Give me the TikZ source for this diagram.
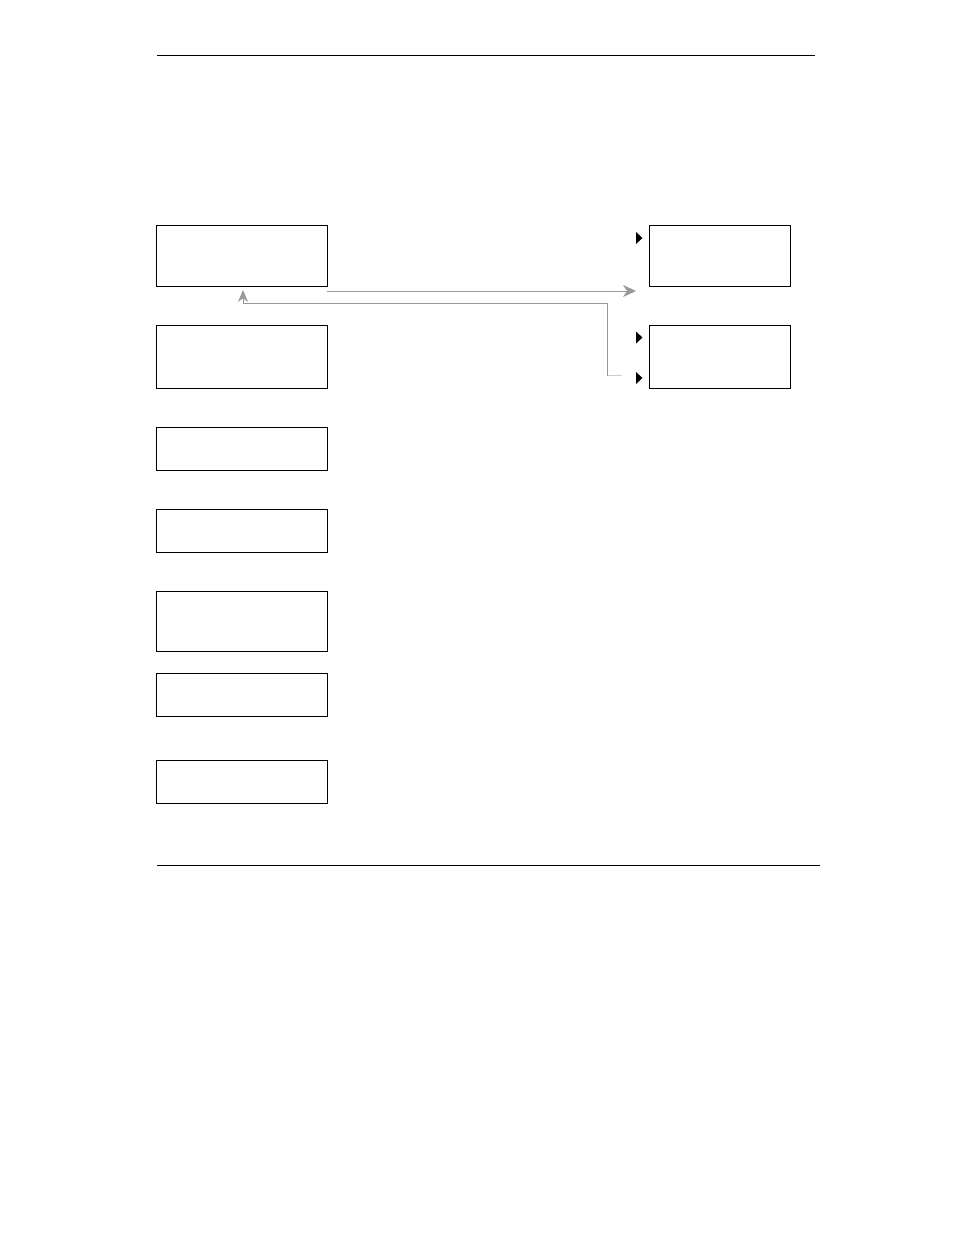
\documentclass[tikz,border=0pt]{standalone}
\usetikzlibrary{arrows.meta}
\newlength\pxu
\setlength\pxu{0.6415pt}
\begin{document}
\begin{tikzpicture}[x=0.6415pt,y=-0.6415pt,
  box/.style={draw=black,line width=0.6pt,rectangle,inner sep=0pt,fill=white},
  rule/.style={draw=black,line width=0.65pt},
  conn/.style={draw=black!40,line width=0.6pt},
  tri/.style={fill=black,draw=none},
  tip/.style={-{Stealth[length=8.3pt,width=7.7pt,inset=2.6pt]}},
  uptip/.style={-{Stealth[length=7.6pt,width=6.4pt,inset=2.3pt]}}]
\useasboundingbox (0,0) rectangle (954,1235);
% page rules
\coordinate (r1a) at (157,55);  \coordinate (r1b) at (815,55);
\coordinate (r2a) at (157,865); \coordinate (r2b) at (820,865);
\draw[rule] (r1a) -- (r1b);
\draw[rule] (r2a) -- (r2b);
% left column boxes
\node[box,minimum width=171\pxu,minimum height=61\pxu] (b1) at (241.5,255.5) {};
\node[box,minimum width=171\pxu,minimum height=63\pxu] (b2) at (241.5,356.5) {};
\node[box,minimum width=171\pxu,minimum height=43\pxu] (b3) at (241.5,448.5) {};
\node[box,minimum width=171\pxu,minimum height=43\pxu] (b4) at (241.5,530.5) {};
\node[box,minimum width=171\pxu,minimum height=60\pxu] (b5) at (241.5,621) {};
\node[box,minimum width=171\pxu,minimum height=43\pxu] (b6) at (241.5,694.5) {};
\node[box,minimum width=171\pxu,minimum height=43\pxu] (b7) at (241.5,781.5) {};
% right column boxes
\node[box,minimum width=141\pxu,minimum height=61\pxu] (c1) at (719.5,255.5) {};
\node[box,minimum width=141\pxu,minimum height=63\pxu] (c2) at (719.5,356.5) {};
% small black markers
\fill[tri] (636,232) -- (642.5,238) -- (636,244) -- cycle;
\fill[tri] (636,331.5) -- (642.5,337.5) -- (636,343.5) -- cycle;
\fill[tri] (636,372) -- (642.5,378) -- (636,384) -- cycle;
% connectors
\coordinate (a1s) at (b1.south east |- 0,291);
\coordinate (a1e) at (636,291);
\draw[conn,tip] (a1s) -- (a1e);
\coordinate (a2s) at (622,375.5);
\coordinate (a2c) at (607.5,375.5);
\coordinate (a2d) at (607.5,303);
\coordinate (a2f) at (243,303);
\coordinate (a2e) at (243,290);
\draw[draw=black!20,line width=0.6pt] (a2s) -- (a2c);
\draw[conn,uptip] (a2c) -- (a2d) -- (a2f) -- (a2e);
\end{tikzpicture}
\end{document}
